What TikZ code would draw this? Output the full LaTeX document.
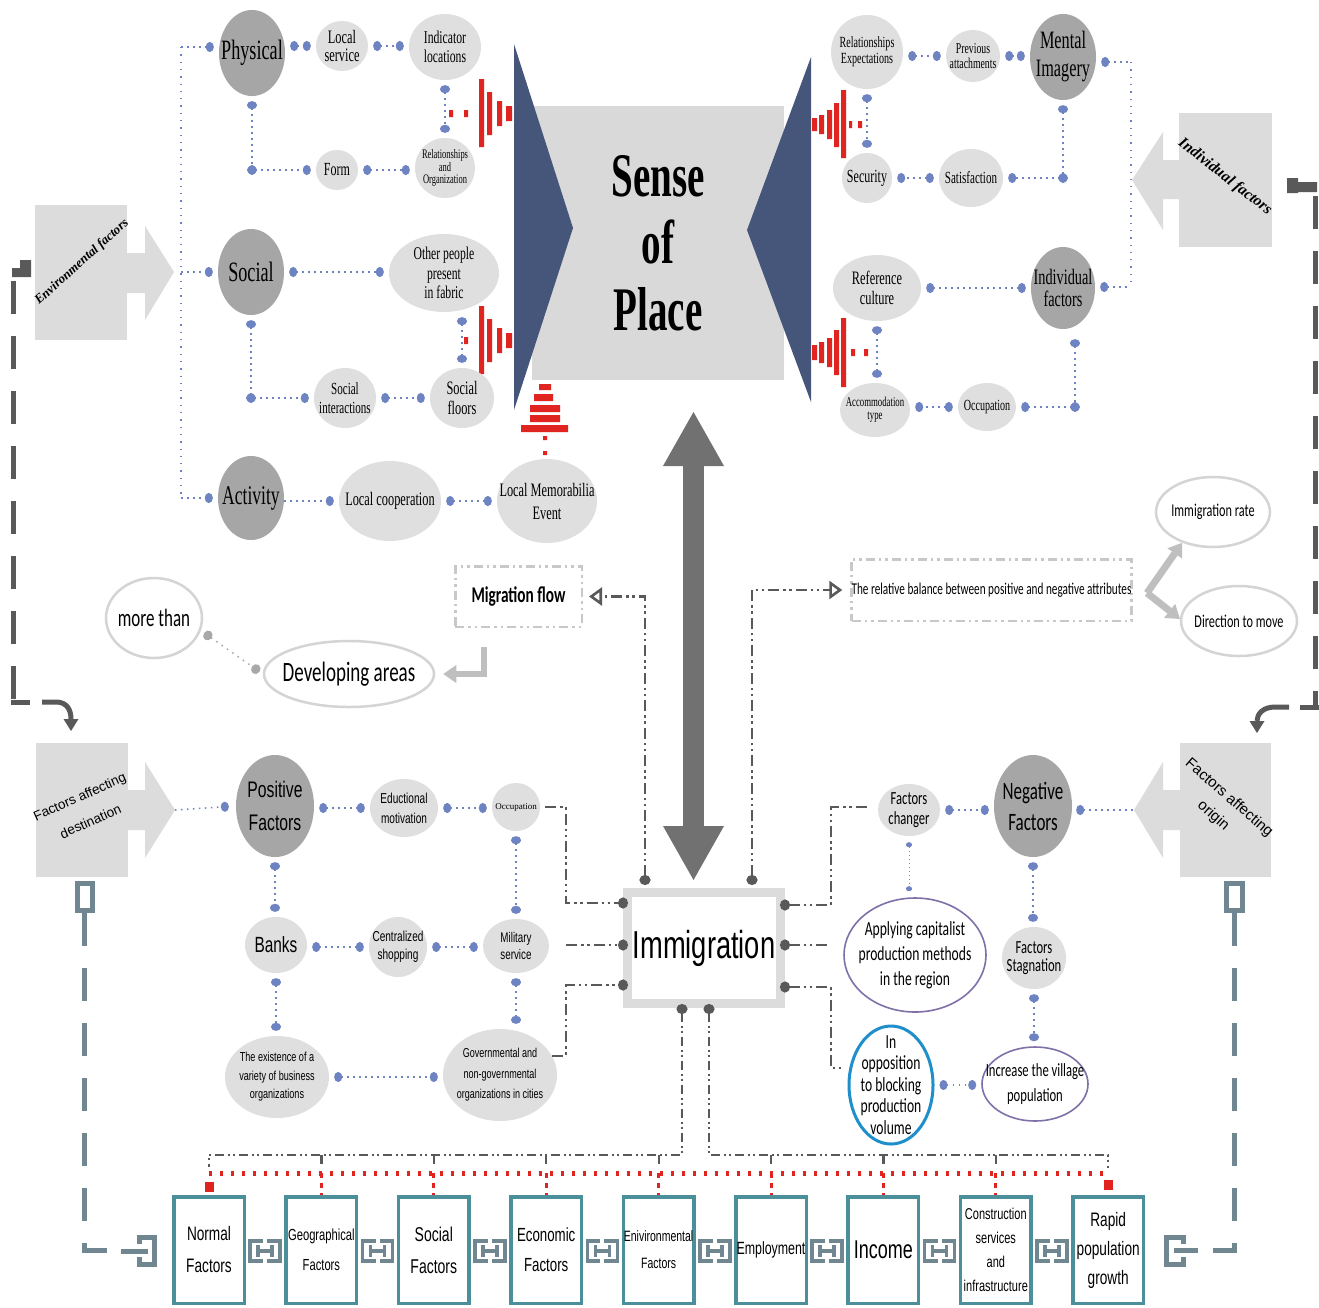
\documentclass[tikz,border=0pt]{standalone}
\usepackage{fontspec}
\setmainfont{Liberation Serif}
\newfontfamily\nser[FakeStretch=0.65]{Liberation Serif}
\newfontfamily\sopfont[FakeStretch=0.63]{Liberation Serif}
\newfontfamily\nsan[FakeStretch=0.70]{Liberation Sans}
\newfontfamily\arialf{Liberation Sans}
\newfontfamily\calib[FakeStretch=0.68]{Carlito}
\usetikzlibrary{shapes.geometric,arrows.meta,calc}
\newcommand{\fsz}[2]{\fontsize{#1}{#2}\selectfont}
\definecolor{dg}{HTML}{A6A6A6}
\definecolor{lg}{HTML}{DFDFDF}
\definecolor{boxg}{HTML}{DCDCDC}
\definecolor{sopg}{HTML}{D9D9D9}
\definecolor{bdot}{HTML}{6E83C2}
\definecolor{trib}{HTML}{46557A}
\definecolor{myred}{HTML}{E0241F}
\definecolor{arrowg}{HTML}{717171}
\definecolor{dline}{HTML}{595959}
\definecolor{myteal}{HTML}{4A8F99}
\definecolor{slate}{HTML}{708792}
\definecolor{olg}{HTML}{D4D4D4}
\definecolor{purp}{HTML}{8070A8}
\definecolor{cyanb}{HTML}{1E8FCB}
\definecolor{lgar}{HTML}{BFBFBF}
\definecolor{dbx}{HTML}{C8C8C8}
\definecolor{gdc}{HTML}{A8A8A8}
\definecolor{framg}{HTML}{DCDCDC}
\tikzset{
 dotA/.tip={Circle[length=8pt,width=10pt]},
 dotS/.tip={Circle[length=5pt,width=6pt]},
 portdot/.tip={Circle[length=10pt,width=11pt]},
 gdot/.tip={Circle[length=9pt,width=10pt]},
 opentip/.tip={Triangle[open,length=13pt,width=18pt]},
 bigtip/.tip={Triangle[length=54pt,width=61pt,line width=0pt]},
 gtip/.tip={Triangle[length=13pt,width=18pt,line width=0pt]},
 ell/.style n args={4}{ellipse,inner sep=0pt,minimum width=#1pt,minimum height=#2pt,
   label={[align=center,inner sep=0pt,font=#3]center:#4}},
 dkf/.style={fill=dg},
 ltf/.style={fill=lg},
 oe/.style={draw=olg,line width=2.5pt,fill=white},
 pe/.style={draw=purp,line width=1.6pt,fill=white},
 ce/.style={draw=cyanb,line width=3pt,fill=white},
 bbase/.style={draw=bdot,line width=1.5pt,dash pattern=on 1.5pt off 4.5pt},
 bc/.style={bbase,dotA-dotA,shorten <=5pt,shorten >=5pt},
 bce/.style={bbase,-dotA,shorten >=5pt},
 bcs/.style={bbase,dotA-,shorten <=5pt},
 bcsm/.style={draw=bdot,line width=1pt,dash pattern=on 1pt off 3pt,dotS-dotS,shorten <=6pt,shorten >=6pt},
 bline/.style={draw=bdot,line width=1.3pt,dash pattern=on 1.3pt off 6pt},
 gc/.style={draw=gdc,line width=1.5pt,dash pattern=on 1.5pt off 5pt,gdot-gdot,shorten <=4pt,shorten >=4pt},
 dd/.style={draw=dline,line width=2.6pt,dash pattern=on 11pt off 4pt on 2.5pt off 3.5pt on 2.5pt off 4pt},
 dd2/.style={draw=dline,line width=2.2pt,dash pattern=on 9pt off 4pt on 2pt off 3pt on 2pt off 4pt},
 bigd/.style={draw=dline,line width=5pt,dash pattern=on 33pt off 22pt},
 sdash/.style={draw=slate,line width=5pt,dash pattern=on 33pt off 22pt},
 lga/.style={draw=lgar,line width=6pt},
 tbox/.style={draw=myteal,line width=3.5pt,fill=white,minimum width=70.5pt,minimum height=106.5pt,inner sep=0pt,align=center},
 dbox/.style={draw=dbx,line width=2.5pt,dash pattern=on 9pt off 4pt on 2.5pt off 4pt on 2.5pt off 4pt,fill=white,inner sep=0pt,align=center},
 fbox/.style={fill=boxg,inner sep=0pt},
 link/.style={draw=slate,line width=3.5pt},
 redtick/.style={draw=myred,line width=3pt,dash pattern=on 5pt off 5pt},
 reddot/.style={draw=myred,line width=5pt,dash pattern=on 3pt off 8pt},
}
\begin{document}
\begin{tikzpicture}[x=1pt,y=-1pt]
\useasboundingbox (0,0) rectangle (1319,1307);
\fill[white] (0,0) rectangle (1319,1307);

% ---------- Sense of Place ----------
\node[fill=sopg,minimum width=252pt,minimum height=274pt,inner sep=0pt,align=center,font=\sopfont\bfseries\fsz{62}{67}] (sop) at (658,243) {Sense\\of\\Place};
\fill[trib] (514,44) -- (573,228) -- (514,410) -- cycle;
\fill[trib] (811,57) -- (747,230) -- (811,402) -- cycle;

% red wave marks
\fill[myred] (479,79) rectangle (484,147) (487,92) rectangle (492,135) (497,101) rectangle (502,126) (506,106) rectangle (512,121) (449,110) rectangle (453,117) (464,110) rectangle (468,117);
\fill[myred] (479,306) rectangle (484,374) (487,319) rectangle (492,362) (497,328) rectangle (502,353) (506,333) rectangle (512,348) (464,337) rectangle (468,344);
\fill[myred] (841,90) rectangle (846,158) (834,103) rectangle (839,147) (827,110) rectangle (832,139) (819,115) rectangle (824,134) (812,118) rectangle (817,131) (849,121) rectangle (852,128) (858,121) rectangle (862,128);
\fill[myred] (841,318) rectangle (846,387) (834,330) rectangle (839,375) (827,338) rectangle (832,367) (819,342) rectangle (824,363) (812,345) rectangle (817,360) (851,349) rectangle (855,356) (864,349) rectangle (868,356);
\fill[myred] (539,384) rectangle (551,390) (534,394) rectangle (553,401) (530,405) rectangle (560,412) (530,415) rectangle (560,422) (521,425) rectangle (568,432) (543,436) rectangle (547,440) (543,451) rectangle (547,455);

% ---------- side factor boxes ----------
\node[fbox,minimum width=92pt,minimum height=135pt] (env) at (81,272.5) {};
\fill[boxg] (126,253) -- (145,253) -- (145,226) -- (174,272) -- (145,320) -- (145,293) -- (126,293) -- cycle;
\node[rotate=42,font=\bfseries\itshape\fsz{13}{14}] (envtxt) at (82,262) {Environmental factors};
\node[fbox,minimum width=93pt,minimum height=134pt] (indiv) at (1225.5,180) {};
\fill[boxg] (1180,160) -- (1163,160) -- (1163,132) -- (1132,180) -- (1163,230) -- (1163,199) -- (1180,199) -- cycle;
\node[rotate=-38,font=\bfseries\itshape\fsz{15.5}{16}] (indivtxt) at (1225,177) {Individual factors};
\node[fbox,minimum width=92pt,minimum height=134pt] (dest) at (82,810) {};
\fill[boxg] (127,790) -- (145,790) -- (145,762) -- (175,810) -- (145,858) -- (145,830) -- (127,830) -- cycle;
\node[rotate=24,align=center,font=\arialf\fsz{13.5}{27}] (desttxt) at (85,809) {Factors affecting\\destination};
\node[fbox,minimum width=91pt,minimum height=134pt] (orig) at (1225.5,810) {};
\fill[boxg] (1181,790) -- (1163,790) -- (1163,762) -- (1134,810) -- (1163,858) -- (1163,830) -- (1181,830) -- cycle;
\node[rotate=-41,align=center,font=\arialf\fsz{15}{24}] (origtxt) at (1221,807) {Factors affecting\\origin};

% ---------- top-left ellipses ----------
\node[dkf,ell={66}{86}{\nser\fsz{28}{30}}{Physical}] (phys) at (252,53) {};
\node[ltf,ell={52}{50}{\nser\fsz{19}{17.5}}{Local\\service}] (lserv) at (342,46) {};
\node[ltf,ell={72}{66}{\nser\fsz{18}{18.5}}{Indicator\\locations}] (indic) at (445,47) {};
\node[ltf,ell={60}{60}{\nser\fsz{13}{12.5}}{Relationships\\and\\Organization}] (relorg) at (445,168) {};
\node[ltf,ell={42}{40}{\nser\fsz{18.5}{20}}{Form}] (form) at (337,170) {};
\node[dkf,ell={66}{86}{\nser\fsz{28}{30}}{Social}] (soc) at (251,272) {};
\node[ltf,ell={110}{78}{\nser\fsz{18}{19.5}}{Other people\\present\\in fabric}] (other) at (444,273) {};
\node[ltf,ell={62}{60}{\nser\fsz{17}{19}}{Social\\interactions}] (sint) at (345,398) {};
\node[ltf,ell={64}{60}{\nser\fsz{19}{19.5}}{Social\\floors}] (sfl) at (462,398) {};
\node[dkf,ell={66}{84}{\nser\fsz{27}{30}}{Activity}] (act) at (251,498) {};
\node[ltf,ell={102}{80}{\nser\fsz{19}{20}}{Local cooperation}] (lcoop) at (390,501) {};
\node[ltf,ell={100}{84}{\nser\fsz{19}{23}}{Local Memorabilia\\Event}] (lmem) at (547,501) {};

% ---------- top-right ellipses ----------
\node[ltf,ell={72}{74}{\nser\fsz{15.5}{16.5}}{Relationships\\Expectations}] (relexp) at (867,52) {};
\node[ltf,ell={54}{52}{\nser\fsz{15}{14.5}}{Previous\\attachments}] (prev) at (973,56) {};
\node[dkf,ell={66}{86}{\nser\fsz{25}{28}}{Mental\\Imagery}] (ment) at (1063,57) {};
\node[ltf,ell={50}{50}{\nser\fsz{18.5}{20}}{Security}] (secur) at (867,178) {};
\node[ltf,ell={64}{58}{\nser\fsz{17}{19}}{Satisfaction}] (satis) at (971,178) {};
\node[ltf,ell={88}{66}{\nser\fsz{19}{20}}{Reference\\culture}] (refc) at (877,288) {};
\node[dkf,ell={64}{82}{\nser\fsz{22}{22}}{Individual\\factors}] (ifac) at (1063,288) {};
\node[ltf,ell={70}{54}{\nser\fsz{13.5}{13.5}}{Accommodation\\type}] (accom) at (875,410) {};
\node[ltf,ell={58}{48}{\nser\fsz{15.5}{17}}{Occupation}] (occR) at (987,407) {};

% ---------- middle ----------
\node[oe,ell={96}{80}{\calib\fsz{25}{26}}{more than}] (more) at (154,618) {};
\node[oe,ell={170}{66}{\calib\fsz{28}{30}}{Developing areas}] (dev) at (349,674) {};
\node[dbox,minimum width=126.5pt,minimum height=60.5pt,font=\calib\bfseries\fsz{22.5}{24}] (mig) at (518.5,596.5) {Migration flow};
\node[dbox,minimum width=278.5pt,minimum height=61.5pt,font=\calib\fsz{16.5}{18}] (bal) at (991.5,590) {The relative balance between positive and negative attributes};
\node[oe,ell={114}{70}{\calib\fsz{18}{20}}{Immigration rate}] (imr) at (1213,512) {};
\node[oe,ell={116}{70}{\calib\fsz{18}{20}}{Direction to move}] (dir) at (1239,621) {};

% ---------- bottom-left ----------
\node[dkf,ell={78}{102}{\nsan\fsz{22.5}{33}}{Positive\\Factors}] (pf) at (275,806) {};
\node[ltf,ell={68}{58}{\nsan\fsz{14.4}{20}}{Eductional\\motivation}] (edu) at (404,808) {};
\node[ltf,ell={48}{48}{\rmfamily\fsz{9}{11}}{Occupation}] (occB) at (516,807) {};
\node[ltf,ell={62}{56}{\nsan\fsz{22}{24}}{Banks}] (banks) at (276,945) {};
\node[ltf,ell={58}{60}{\nsan\fsz{14.4}{18}}{Centralized\\shopping}] (cshop) at (398,947) {};
\node[ltf,ell={66}{54}{\nsan\fsz{14}{17}}{Military\\service}] (mil) at (516,946) {};
\node[ltf,ell={104}{82}{\nsan\fsz{13}{18.5}}{The existence of a\\variety of business\\organizations}] (exist) at (277,1077) {};
\node[ltf,ell={114}{92}{\nsan\fsz{12.9}{20.5}}{Governmental and\\non-governmental\\organizations in cities}] (gov) at (500,1075) {};

% ---------- bottom-right ----------
\node[ltf,ell={62}{52}{\calib\fsz{18.5}{20}}{Factors\\changer}] (fchg) at (909,810) {};
\node[dkf,ell={78}{102}{\calib\fsz{25}{31}}{Negative\\Factors}] (neg) at (1033,806) {};
\node[pe,ell={142}{114}{\calib\fsz{20}{25}}{Applying capitalist\\production methods\\in the region}] (capit) at (915,955) {};
\node[ltf,ell={64}{62}{\calib\fsz{18.5}{18.5}}{Factors\\Stagnation}] (fstag) at (1034,958) {};
\node[pe,ell={106}{74}{\calib\fsz{18.6}{25}}{Increase the village\\population}] (incr) at (1035,1084) {};
\node[ce,ell={84}{118}{\calib\fsz{20}{21.5}}{In\\opposition\\to blocking\\production\\volume}] (opp) at (891,1085) {};

% ---------- Immigration ----------
\node[draw=framg,line width=9pt,fill=white,minimum width=153pt,minimum height=111pt,inner sep=0pt,font=\nsan\fsz{39}{40}] (imm) at (704,948) {Immigration};

% ---------- bottom boxes ----------
\node[tbox,font=\nsan\fsz{19.5}{32}] (b1) at (209,1250) {Normal\\Factors};
\node[tbox,font=\nsan\fsz{16}{30}] (b2) at (321.4,1250) {Geographical\\Factors};
\node[tbox,font=\nsan\fsz{20}{32}] (b3) at (433.8,1250) {Social\\Factors};
\node[tbox,font=\nsan\fsz{19}{30}] (b4) at (546.2,1250) {Economic\\Factors};
\node[tbox,font=\nsan\fsz{15}{27}] (b5) at (658.6,1250) {Enivironmental\\Factors};
\node[tbox,font=\nsan\fsz{17.7}{20}] (b6) at (771,1250) {Employment};
\node[tbox,font=\nsan\fsz{25.7}{28}] (b7) at (883.4,1250) {Income};
\node[tbox,font=\nsan\fsz{15.7}{24}] (b8) at (995.8,1250) {Construction\\services\\and\\infrastructure};
\node[tbox,font=\nsan\fsz{19.5}{29}] (b9) at (1108.2,1250) {Rapid\\population\\growth};

% ---------- coordinates ----------
\coordinate (vt) at (181,47);
\coordinate (vm) at (181,272);
\coordinate (vb) at (181,498);
\coordinate (vr1) at (1131,62);
\coordinate (vr2) at (1131,287);
\coordinate (c1) at (phys.south |- form);
\coordinate (c2) at (soc.south |- sint);
\coordinate (c3) at (ment.south |- satis);
\coordinate (c4) at (1075,407);
\coordinate (dtip) at (175,810);
\coordinate (otip) at (1134,810);
\coordinate (pL1) at (628,903);
\coordinate (pL2) at (628,945);
\coordinate (pL3) at (628,985);
\coordinate (pR1) at (780,905);
\coordinate (pR2) at (780,945);
\coordinate (pR3) at (780,987);
\coordinate (pT1) at (645,885);
\coordinate (pT2) at (752,885);
\coordinate (pB1) at (682,1004);
\coordinate (pB2) at (709,1004);
\coordinate (sL2) at (566,945);
\coordinate (sR2) at (831,945);
\coordinate (atop) at (693.5,412);
\coordinate (abot) at (693.5,880);
\coordinate (bv) at (1147,593);

% ---------- blue dotted connectors: top-left ----------
\draw[bline] (vt) -- (vb);
\draw[bce] (vt) -- (vt -| phys.west);
\draw[bce] (vm) -- (vm -| soc.west);
\draw[bce] (vb) -- (vb -| act.west);
\draw[bc] (phys.east |- lserv) -- (lserv.west);
\draw[bc] (lserv.east) -- (indic.west |- lserv);
\draw[bc] (indic.south) -- (indic.south |- relorg.north);
\draw[bc,shorten >=-4pt] (phys.south) -- (c1);
\draw[bc,shorten <=-4pt] (c1) -- (form.west);
\draw[bc] (form.east) -- (relorg.west |- form);
\draw[bc] (soc.east) -- (other.west |- soc);
\draw[bc] (sfl.north |- other.south) -- (sfl.north);
\draw[bc,shorten >=-4pt] (soc.south) -- (c2);
\draw[bc,shorten <=-4pt] (c2) -- (sint.west);
\draw[bc] (sint.east) -- (sfl.west);
\draw[bce] (act.east |- lcoop) -- (lcoop.west);
\draw[bc] (lcoop.east) -- (lmem.west);

% ---------- blue dotted connectors: top-right ----------
\draw[bc] (relexp.east |- prev) -- (prev.west);
\draw[bc] (prev.east) -- (ment.west |- prev);
\draw[bc,shorten >=-4pt] (ment.south) -- (c3);
\draw[bc,shorten <=-4pt] (c3) -- (satis.east);
\draw[bc] (satis.west) -- (secur.east |- satis);
\draw[bc] (relexp.south) -- (relexp.south |- secur.north);
\draw[bline] (vr1) -- (vr2);
\draw[bcs] (ment.east |- vr1) -- (vr1);
\draw[bcs] (ifac.east |- vr2) -- (vr2);
\draw[bc] (refc.east) -- (ifac.west |- refc);
\draw[bc,shorten <=10pt,shorten >=-4pt] (c4 |- ifac.south) -- (c4);
\draw[bc,shorten <=-4pt] (c4) -- (occR.east);
\draw[bc] (occR.west) -- (accom.east |- occR);
\draw[bc] (refc.south) -- (refc.south |- accom.north);

% ---------- blue dotted connectors: bottom ----------
\draw[bce,shorten >=7pt] (dtip) -- (pf.west);
\draw[bc] (pf.east |- edu) -- (edu.west);
\draw[bc] (edu.east) -- (occB.west |- edu);
\draw[bc] (pf.south) -- (pf.south |- banks.north);
\draw[bc] (banks.east |- cshop) -- (cshop.west);
\draw[bc] (cshop.east) -- (mil.west |- cshop);
\draw[bc] (occB.south) -- (occB.south |- mil.north);
\draw[bc] (banks.south) -- (banks.south |- exist.north);
\draw[bc] (mil.south) -- (mil.south |- gov.north);
\draw[bc] (exist.east) -- (gov.west |- exist);
\draw[bc] (fchg.east) -- (neg.west |- fchg);
\draw[bcs,shorten <=4pt] (neg.east |- otip) -- (otip);
\draw[bcsm] (fchg.south) -- (fchg.south |- capit.north);
\draw[bc] (neg.south) -- (neg.south |- fstag.north);
\draw[bc] (fstag.south) -- (fstag.south |- incr.north);
\draw[bc] (opp.east) -- (incr.west |- opp);
\draw[gc] (more.-15) -- (dev.west);

% ---------- grey arrows ----------
\draw[draw=arrowg,line width=21pt,bigtip-bigtip] (atop) -- (abot);
\draw[lga,-gtip,shorten >=8pt] ([xshift=-34.5pt,yshift=-19pt]mig.south) |- (dev.east);
\draw[draw=lgar,line width=7pt,-gtip] (bv) -- (imr.225);
\draw[draw=lgar,line width=7pt,-gtip] (bv) -- (dir.178);

% ---------- Immigration connectors ----------
\draw[dd,-portdot,shorten <=5pt] (occB.east) -| (566,903) -- (pL1);
\draw[dd,-portdot] (sL2) -- (pL2);
\draw[dd,-portdot] (gov.20) -| (566,985) -- (pL3);
\draw[dd,portdot-] (pR1) -| (831,807) -- ([xshift=-10pt,yshift=3pt]fchg.west);
\draw[dd,portdot-] (pR2) -- (sR2);
\draw[dd,portdot-] (pR3) -| (831,1068) -- ([xshift=-3pt,yshift=17pt]opp.west);
\draw[dd,portdot-opentip,shorten >=6pt] (pT1) |- (mig.east);
\draw[dd,portdot-opentip,shorten >=8pt] (pT2) |- (bal.west);
\draw[dd2,portdot-] (pB1) |- ([yshift=40pt]b1.north) -- ++(0,12);
\draw[dd2,portdot-] (pB2) |- ([yshift=40pt]b9.north) -- ++(0,13);
\draw[reddot] ([yshift=22pt]b1.north) -- ([yshift=22pt]b9.north);
\fill[myred] ([xshift=-4.5pt,yshift=3pt]b1.north) rectangle ++(9,-10);
\fill[myred] ([xshift=-4.5pt,yshift=5pt]b9.north) rectangle ++(9,-10);
\foreach \b in {b2,b3,b4,b5,b6,b7,b8} {
  \draw[dd2,dash pattern=on 9pt off 30pt] ([yshift=40pt]\b.north) -- ([yshift=27pt]\b.north);
  \draw[redtick] ([yshift=22pt]\b.north) -- (\b.north);
}

% ---------- link icons ----------
\foreach \x in {265.2,377.6,490,602.4,714.8,827.2,939.6,1052} {
  \draw[link] ({\x-2},1241) -- ({\x-15},1241) -- ({\x-15},1261) -- ({\x-2},1261);
  \draw[link] ({\x+2},1241) -- ({\x+15},1241) -- ({\x+15},1261) -- ({\x+2},1261);
  \draw[link] ({\x-7},1245) -- ({\x-7},1257);
  \draw[link] ({\x+7},1245) -- ({\x+7},1257);
  \draw[link] ({\x-7},1251) -- ({\x+7},1251);
}
\draw[link,line width=5pt] (139,1244) -- (139,1237) -- (154,1237) -- (154,1264) -- (139,1264) -- (139,1257);
\draw[link,line width=5pt] (121,1251) -- (148,1251);
\draw[link,line width=5pt] (1183,1244) -- (1183,1237) -- (1166,1237) -- (1166,1264) -- (1183,1264) -- (1183,1257);
\draw[link,line width=5pt] (1174,1250) -- (1198,1250);

% ---------- slate dashed side connectors ----------
\draw[draw=slate,line width=5pt,fill=white] (77,883) rectangle (92.5,910.5);
\draw[sdash] (84.5,913) -- (84.5,1250) -- (107,1250);
\draw[draw=slate,line width=5pt,fill=white] (1226.5,883) rectangle (1242,910.5);
\draw[sdash] (1234,913) -- (1234,1250) -- (1213,1250);

% ---------- big dark dashed side connectors ----------
\fill[dline] (20,260) rectangle (31,277) (12,268) rectangle (20,277);
\draw[bigd] (13.5,281) -- (13.5,702);
\draw[draw=dline,line width=5pt] (11,702) -- (30,702);
\draw[draw=dline,line width=5pt,-{Triangle[length=12pt,width=15pt,line width=0pt]}] (42,702) -- (56,702) .. controls (67,702) and (71,710) .. (71,731);
\fill[dline] (1287,178) rectangle (1298,193) (1298,182) rectangle (1317,192);
\draw[bigd] (1315,196) -- (1315,707);
\draw[draw=dline,line width=5pt] (1319,707) -- (1300,707);
\draw[draw=dline,line width=5pt,-{Triangle[length=12pt,width=15pt,line width=0pt]}] (1289,707) -- (1275,707) .. controls (1263,707) and (1257,714) .. (1257,733);

\end{tikzpicture}
\end{document}
